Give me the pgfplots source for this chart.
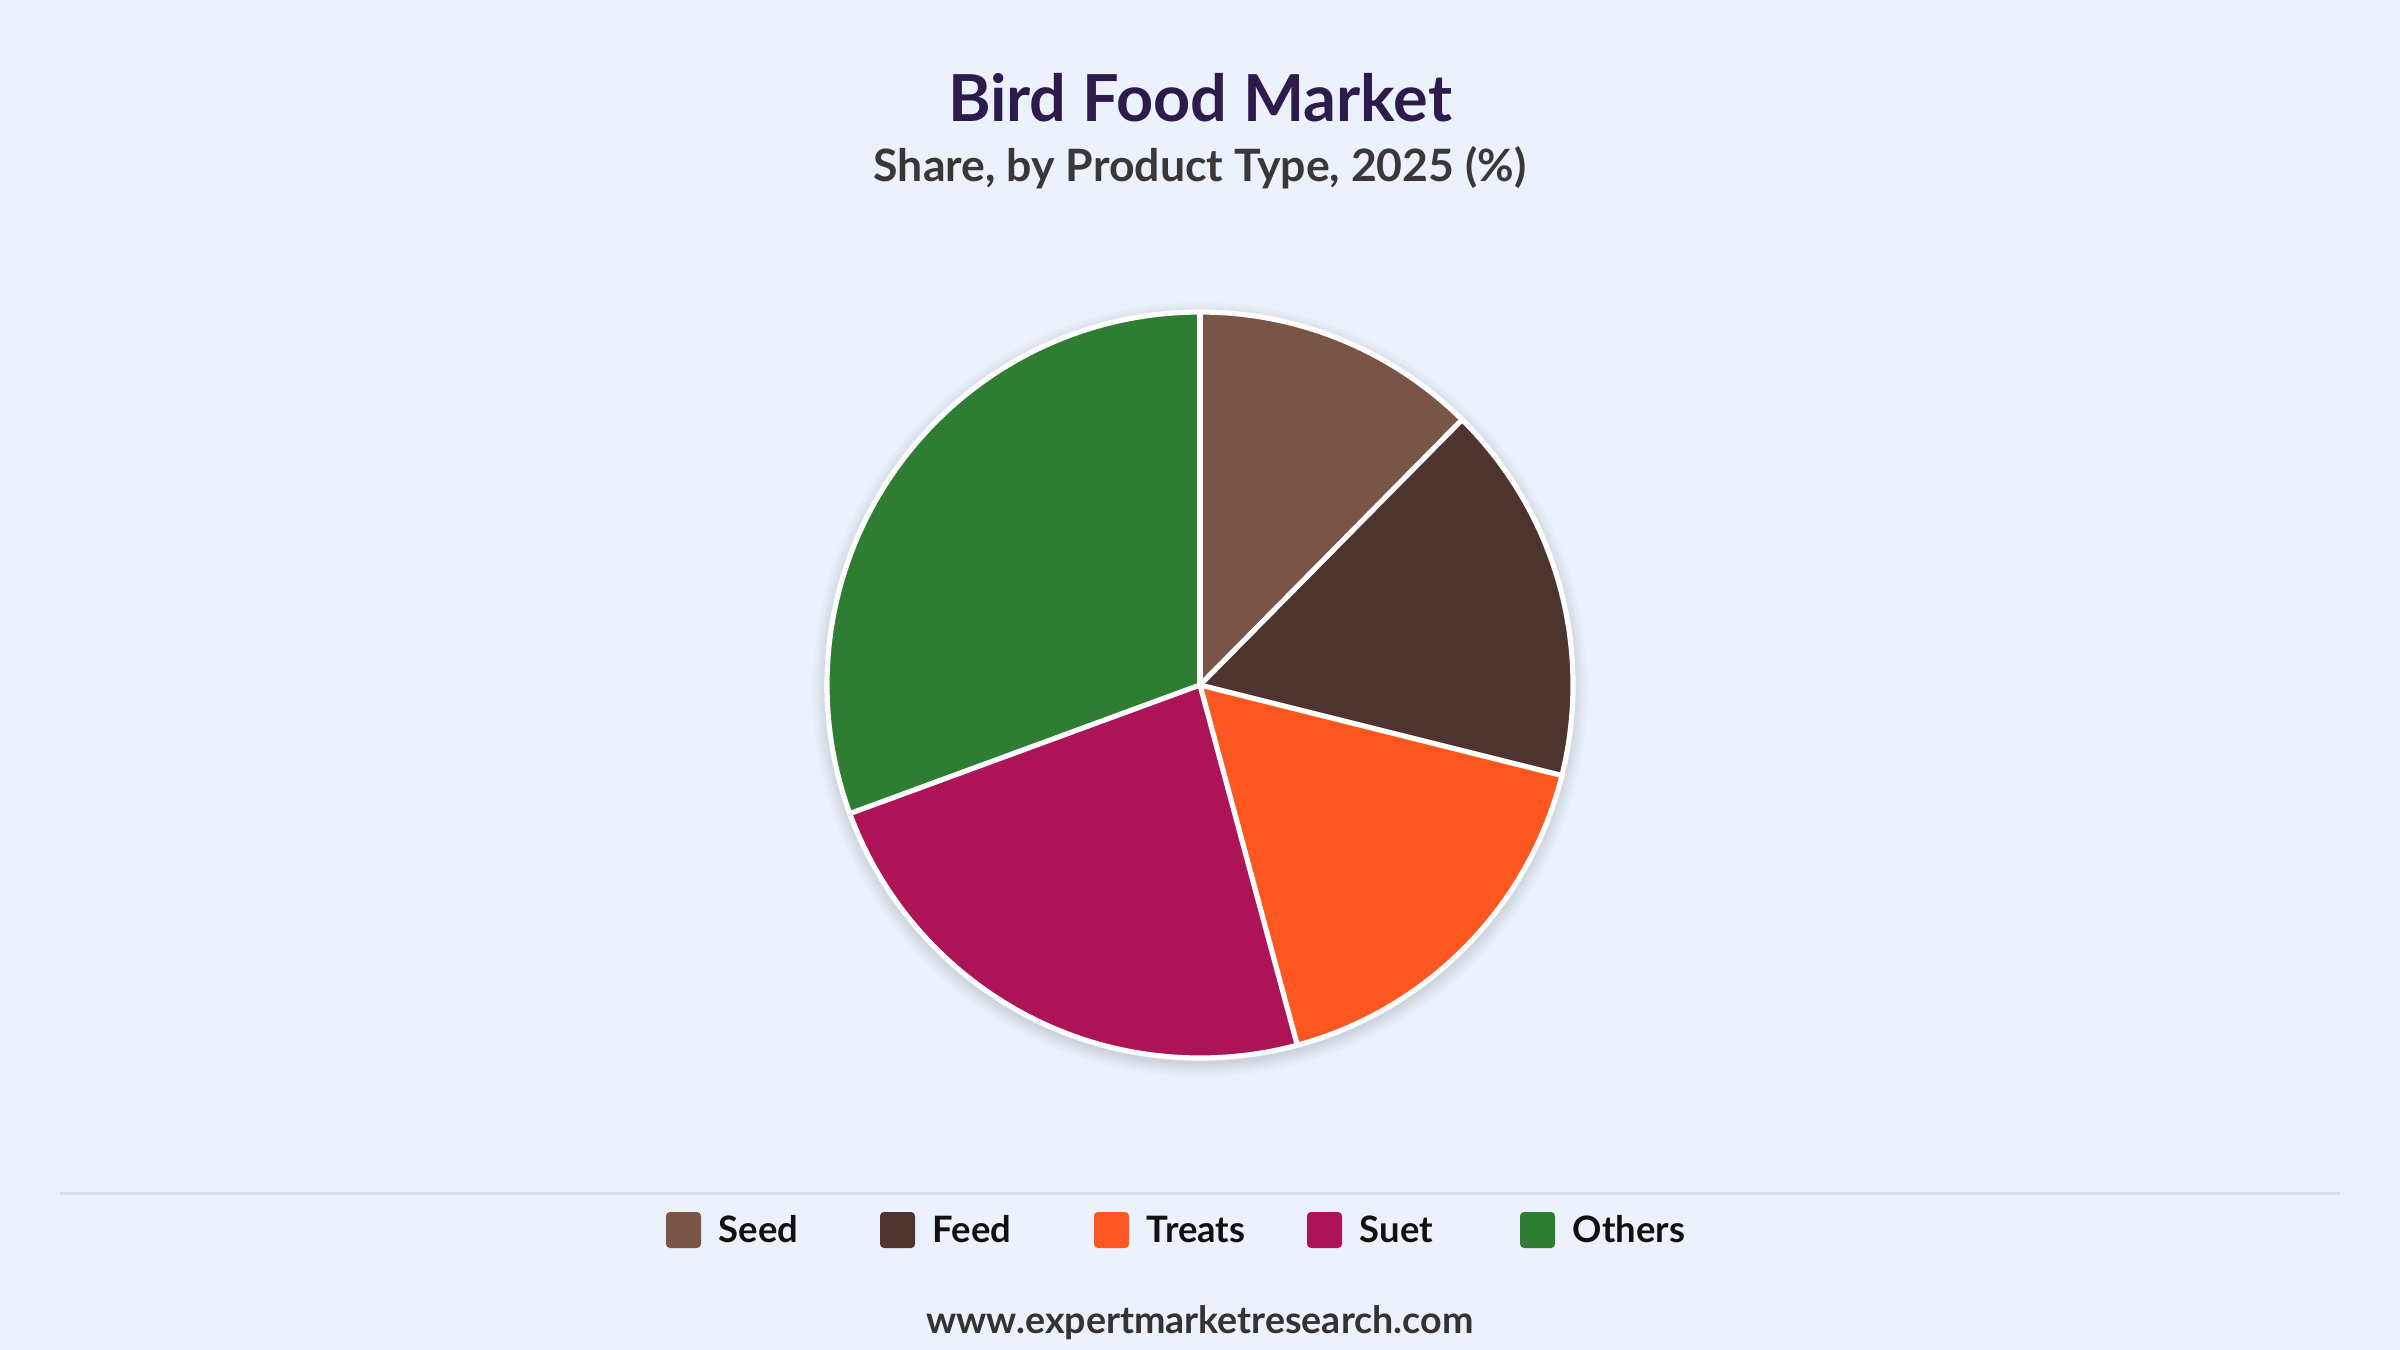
\documentclass[border=0pt]{standalone}
\usepackage{pgfplots}
\pgfplotsset{compat=1.18}
\usepackage{fontspec}
\setmainfont{Lato}
\definecolor{bg}{HTML}{EBF2FB}
\definecolor{titlec}{HTML}{2D1B4E}
\definecolor{subc}{HTML}{383838}
\definecolor{legc}{HTML}{111111}
\definecolor{footc}{HTML}{333333}
\definecolor{sepc}{HTML}{DCDFE3}
\definecolor{cSeed}{HTML}{795548}
\definecolor{cFeed}{HTML}{4E342E}
\definecolor{cTreats}{HTML}{FF5722}
\definecolor{cSuet}{HTML}{AD1457}
\definecolor{cOthers}{HTML}{2E7D32}
% shares (%)
\def\vSeed{12.4}
\def\vFeed{16.5}
\def\vTreats{16.9}
\def\vSuet{23.6}
\def\vOthers{30.6}
\pgfmathsetmacro\aA{90}
\pgfmathsetmacro\aB{\aA-3.6*\vSeed}
\pgfmathsetmacro\aC{\aB-3.6*\vFeed}
\pgfmathsetmacro\aD{\aC-3.6*\vTreats}
\pgfmathsetmacro\aE{\aD-3.6*\vSuet}
\pgfmathsetmacro\aF{\aE-3.6*\vOthers}
\def\pieR{93.25pt}
\begin{document}
\begin{tikzpicture}[x=0.25pt,y=-0.25pt]
\path[use as bounding box] (0,0) rectangle (2400,1350);
\fill[bg] (0,0) rectangle (2400,1350);
\coordinate (pc) at (1200,685);
\node[anchor=base, text=titlec, font=\bfseries\fontsize{16.2}{19}\selectfont] at (1200,121) {Bird Food Market};
\node[anchor=base, text=subc, font=\bfseries\fontsize{11.15}{13}\selectfont] at (1200,181) {Share, by Product Type, 2025 (\%)};
\begin{axis}[at={(pc)}, anchor=center, scale only axis, width=186.5pt, height=186.5pt,
  xmin=-1, xmax=1, ymin=-1, ymax=1, hide axis, clip=false]
\fill[black, opacity=0.018] (axis cs:0,-0.012) circle[radius=93.6pt];
\fill[black, opacity=0.018] (axis cs:0,-0.012) circle[radius=94.2pt];
\fill[black, opacity=0.018] (axis cs:0,-0.012) circle[radius=94.8pt];
\fill[black, opacity=0.018] (axis cs:0,-0.012) circle[radius=95.4pt];
\fill[black, opacity=0.018] (axis cs:0,-0.012) circle[radius=96.0pt];
\fill[black, opacity=0.018] (axis cs:0,-0.012) circle[radius=96.8pt];
\fill[cSeed] (axis cs:0,0) -- ++(\aA:\pieR) arc[start angle=\aA, end angle=\aB, radius=\pieR] -- cycle;
\fill[cFeed] (axis cs:0,0) -- ++(\aB:\pieR) arc[start angle=\aB, end angle=\aC, radius=\pieR] -- cycle;
\fill[cTreats] (axis cs:0,0) -- ++(\aC:\pieR) arc[start angle=\aC, end angle=\aD, radius=\pieR] -- cycle;
\fill[cSuet] (axis cs:0,0) -- ++(\aD:\pieR) arc[start angle=\aD, end angle=\aE, radius=\pieR] -- cycle;
\fill[cOthers] (axis cs:0,0) -- ++(\aE:\pieR) arc[start angle=\aE, end angle=\aF, radius=\pieR] -- cycle;
\draw[white, line width=1.3pt] (axis cs:0,0) -- ++(\aA:\pieR);
\draw[white, line width=1.3pt] (axis cs:0,0) -- ++(\aB:\pieR);
\draw[white, line width=1.3pt] (axis cs:0,0) -- ++(\aC:\pieR);
\draw[white, line width=1.3pt] (axis cs:0,0) -- ++(\aD:\pieR);
\draw[white, line width=1.3pt] (axis cs:0,0) -- ++(\aE:\pieR);
\draw[white, line width=1.3pt] (axis cs:0,0) circle[radius=\pieR];
\end{axis}
\draw[sepc, line width=0.75pt] (60,1193) -- (2340,1193);
\foreach \x/\c/\t in {666/cSeed/Seed, 880/cFeed/Feed, 1094/cTreats/Treats, 1307/cSuet/Suet, 1520/cOthers/Others}{
  \fill[\c, rounded corners=1pt] (\x,1212) rectangle ++(35,36);
  \node[anchor=base west, inner sep=0pt, text=legc, font=\bfseries\fontsize{9.1}{11}\selectfont] at (\x+52,1242) {\t};
}
\node[anchor=base, text=footc, font=\bfseries\fontsize{9.4}{11}\selectfont] at (1200,1333) {www.expertmarketresearch.com};
\end{tikzpicture}
\end{document}
